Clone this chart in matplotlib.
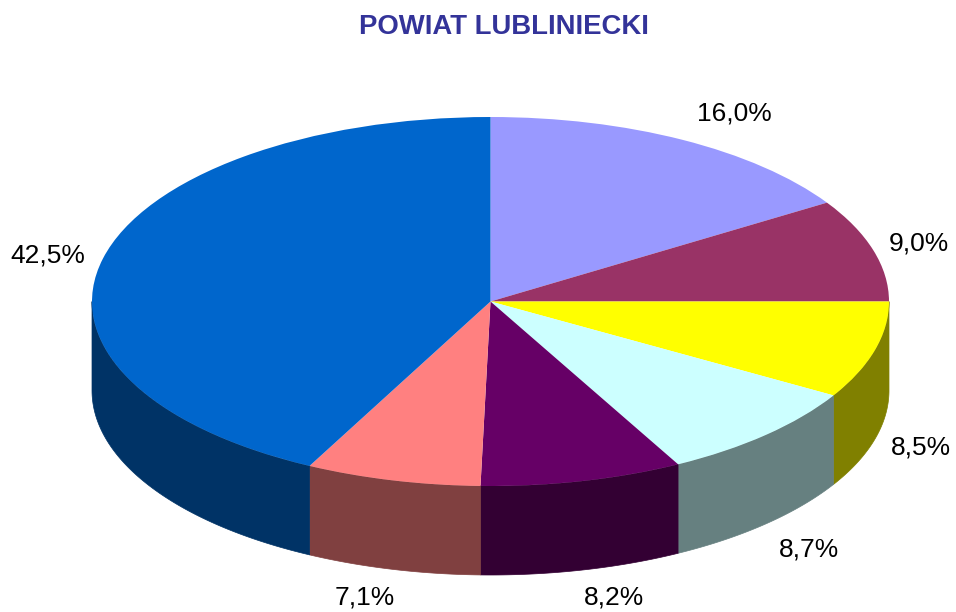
import numpy as np
import matplotlib
matplotlib.use("Agg")
import matplotlib.pyplot as plt

values = [16.0, 9.0, 8.5, 8.7, 8.2, 7.1, 42.5]
labels = ["16,0%", "9,0%", "8,5%", "8,7%", "8,2%", "7,1%", "42,5%"]
top_colors = ["#9999FF", "#993366", "#FFFF00", "#CCFFFF", "#660066", "#FF8080", "#0066CC"]
side_colors = ["#4C4C80", "#4C1933", "#808000", "#668080", "#330033", "#804040", "#003366"]
# label centres in pixels
label_pos = [(734, 113), (919, 244), (921, 448), (809, 549), (614, 598), (365, 598), (48, 255)]

W, H = 956, 612
cx, cy = 490.5, 301.5
rx, ry = 398.5, 184.5
depth = 89

fig = plt.figure(figsize=(W / 100, H / 100), dpi=100)
ax = fig.add_axes([0, 0, 1, 1])

total = sum(values)
depth_u = depth / ry

# side wall, only the part below the horizontal axis can be seen
ang = 90.0
for val, col in zip(values, side_colors):
    end = ang - val / total * 360
    hi = min(ang, 0)
    lo = max(end, -180)
    if hi > lo:
        t = np.radians(np.linspace(hi, lo, 80))
        xs = np.cos(t)
        ys = np.sin(t)
        ax.fill(np.r_[xs, xs[::-1]], np.r_[ys, ys[::-1] - depth_u],
                color=col, lw=0.5, zorder=1)
    ang = end

wedges, _ = ax.pie(values, colors=top_colors, startangle=90, counterclock=False,
                   radius=1, wedgeprops={"linewidth": 0})
for w in wedges:
    w.set_zorder(2)

ax.set_aspect("auto")
ax.set_xlim(-cx / rx, (W - cx) / rx)
ax.set_ylim((cy - H) / ry, cy / ry)
ax.axis("off")

for lab, (px, py) in zip(labels, label_pos):
    fig.text(px / W, 1 - py / H, lab, ha="center", va="center", fontsize=19,
             family="Liberation Sans", color="black")

fig.text(503.5 / W, 1 - 26.5 / H, "POWIAT LUBLINIECKI", ha="center", va="center",
         fontsize=19.8, fontweight="bold", family="Liberation Sans", color="#333399")

fig.savefig("out.png", dpi=100, facecolor="white")
